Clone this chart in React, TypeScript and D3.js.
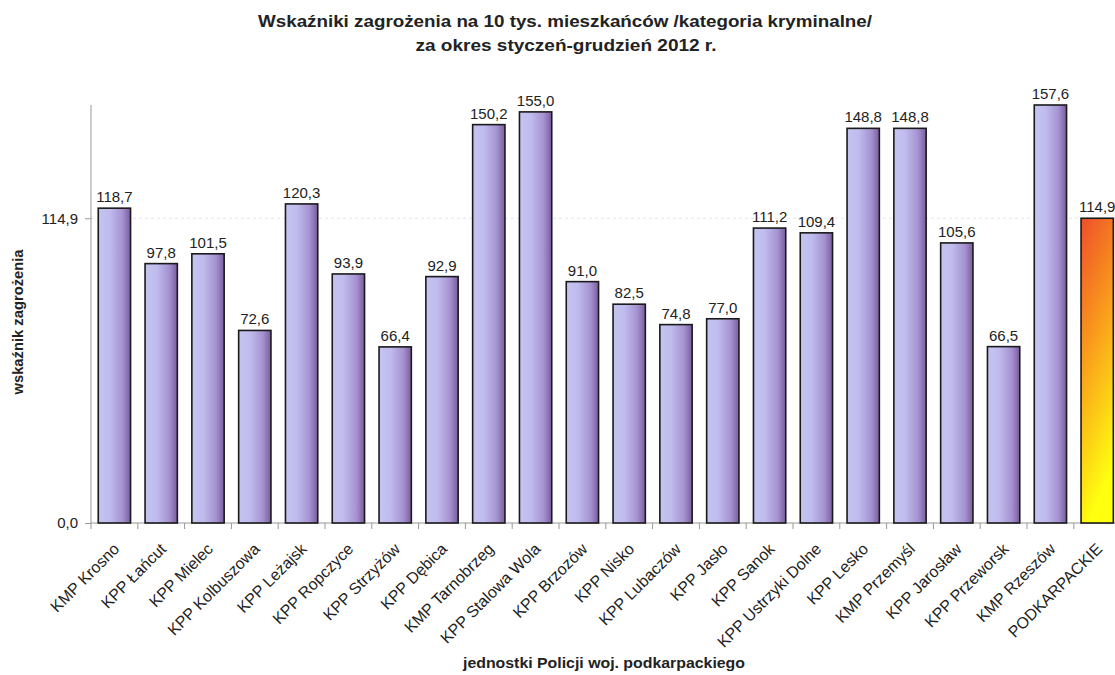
import { useEffect, useRef } from 'react';
import * as d3 from 'd3';

const units = [
  'KMP Krosno', 'KPP Łańcut', 'KPP Mielec', 'KPP Kolbuszowa', 'KPP Leżajsk',
  'KPP Ropczyce', 'KPP Strzyżów', 'KPP Dębica', 'KMP Tarnobrzeg', 'KPP Stalowa Wola',
  'KPP Brzozów', 'KPP Nisko', 'KPP Lubaczów', 'KPP Jasło', 'KPP Sanok',
  'KPP Ustrzyki Dolne', 'KPP Lesko', 'KMP Przemyśl', 'KPP Jarosław', 'KPP Przeworsk',
  'KMP Rzeszów', 'PODKARPACKIE',
];
const rates = [
  118.7, 97.8, 101.5, 72.6, 120.3, 93.9, 66.4, 92.9, 150.2, 155.0, 91.0,
  82.5, 74.8, 77.0, 111.2, 109.4, 148.8, 148.8, 105.6, 66.5, 157.6, 114.9,
];
const yTicks = [0, 114.9];
const total = 'PODKARPACKIE';

const fmt = (v: number) => v.toFixed(1).replace('.', ',');

export default function App() {
  const ref = useRef<SVGSVGElement>(null);

  useEffect(() => {
    const svg = d3.select(ref.current);
    svg.selectAll('*').remove();

    const left = 91, top = 105, bottom = 523;
    const band = 46.8;
    const right = left + band * units.length;

    const x = d3.scaleBand().domain(units).range([left, right]).paddingInner(0.31).paddingOuter(0.155);
    const y = d3.scaleLinear().domain([0, 157.6]).range([bottom, top]);

    const defs = svg.append('defs');
    const g1 = defs.append('linearGradient').attr('id', 'lav').attr('x1', 0).attr('x2', 1).attr('y1', 0).attr('y2', 0);
    g1.append('stop').attr('offset', '0%').attr('stop-color', '#c4c4f0');
    g1.append('stop').attr('offset', '35%').attr('stop-color', '#c0bcee');
    g1.append('stop').attr('offset', '75%').attr('stop-color', '#a592d0');
    g1.append('stop').attr('offset', '100%').attr('stop-color', '#7a5c9e');
    const g2 = defs.append('linearGradient').attr('id', 'sun').attr('x1', 0).attr('x2', 0.25).attr('y1', 0).attr('y2', 1);
    g2.append('stop').attr('offset', '0%').attr('stop-color', '#ee4e2a');
    g2.append('stop').attr('offset', '45%').attr('stop-color', '#f99a1c');
    g2.append('stop').attr('offset', '100%').attr('stop-color', '#ffff10');

    const font = 'Arial, "Liberation Sans", sans-serif';

    // title
    svg.append('text').attr('x', 565).attr('y', 27).attr('text-anchor', 'middle')
      .attr('font-family', font).attr('font-size', 16).attr('font-weight', 'bold').attr('fill', '#222')
      .attr('textLength', 614).attr('lengthAdjust', 'spacingAndGlyphs')
      .text('Wskaźniki zagrożenia na 10 tys. mieszkańców /kategoria kryminalne/');
    svg.append('text').attr('x', 566).attr('y', 51).attr('text-anchor', 'middle')
      .attr('font-family', font).attr('font-size', 16).attr('font-weight', 'bold').attr('fill', '#222')
      .attr('textLength', 301).attr('lengthAdjust', 'spacingAndGlyphs')
      .text('za okres styczeń-grudzień 2012 r.');

    // gridline at average
    svg.append('line').attr('x1', left).attr('x2', 1115).attr('y1', y(114.9)).attr('y2', y(114.9))
      .attr('stroke', '#e2e2ec').attr('stroke-dasharray', '3,3');

    // y axis
    const ya = svg.append('g').attr('transform', `translate(${left},0)`)
      .call(d3.axisLeft(y).tickValues(yTicks).tickSize(6).tickFormat((d) => fmt(+d)));
    ya.select('.domain').attr('stroke', '#999').attr('d', `M-0,${top}V${bottom}`);
    ya.selectAll('line').attr('stroke', '#999');
    ya.selectAll('text').attr('font-family', font).attr('font-size', 15).attr('fill', '#222').attr('x', -13);

    // x axis
    svg.append('line').attr('x1', left).attr('x2', 1115).attr('y1', bottom).attr('y2', bottom).attr('stroke', '#999');
    svg.append('g').selectAll('line').data(d3.range(units.length + 1)).enter().append('line')
      .attr('x1', (i) => left + i * band).attr('x2', (i) => left + i * band)
      .attr('y1', bottom).attr('y2', bottom + 6).attr('stroke', '#999');

    // bars
    svg.append('g').selectAll('rect').data(units).enter().append('rect')
      .attr('x', (d) => x(d)!)
      .attr('y', (d, i) => y(rates[i]))
      .attr('width', x.bandwidth())
      .attr('height', (d, i) => bottom - y(rates[i]))
      .attr('fill', (d) => (d === total ? 'url(#sun)' : 'url(#lav)'))
      .attr('stroke', '#1a1a1a').attr('stroke-width', 1.6);

    // value labels
    svg.append('g').selectAll('text').data(units).enter().append('text')
      .attr('x', (d) => x(d)! + x.bandwidth() / 2)
      .attr('y', (d, i) => y(rates[i]) - 6)
      .attr('text-anchor', 'middle').attr('font-family', font).attr('font-size', 15).attr('fill', '#222')
      .text((d, i) => fmt(rates[i]));

    // category labels
    svg.append('g').selectAll('text').data(units).enter().append('text')
      .attr('transform', (d) => `translate(${x(d)! + x.bandwidth() / 2 + 6},${bottom + 27}) rotate(-45)`)
      .attr('text-anchor', 'end').attr('font-family', font).attr('font-size', 16).attr('fill', '#222')
      .text((d) => d);

    // axis titles
    svg.append('text').attr('transform', `translate(23,${(top + bottom) / 2 + 8}) rotate(-90)`)
      .attr('text-anchor', 'middle').attr('font-family', font).attr('font-size', 14).attr('font-weight', 'bold').attr('fill', '#222')
      .attr('textLength', 145).attr('lengthAdjust', 'spacingAndGlyphs')
      .text('wskaźnik zagrożenia');
    svg.append('text').attr('x', 604).attr('y', 668).attr('text-anchor', 'middle')
      .attr('font-family', font).attr('font-size', 14).attr('font-weight', 'bold').attr('fill', '#222')
      .attr('textLength', 282).attr('lengthAdjust', 'spacingAndGlyphs')
      .text('jednostki Policji woj. podkarpackiego');
  }, []);

  return (
    <svg ref={ref} width={1115} height={675}
      style={{ position: 'absolute', left: 0, top: 0, background: '#fff' }} />
  );
}
